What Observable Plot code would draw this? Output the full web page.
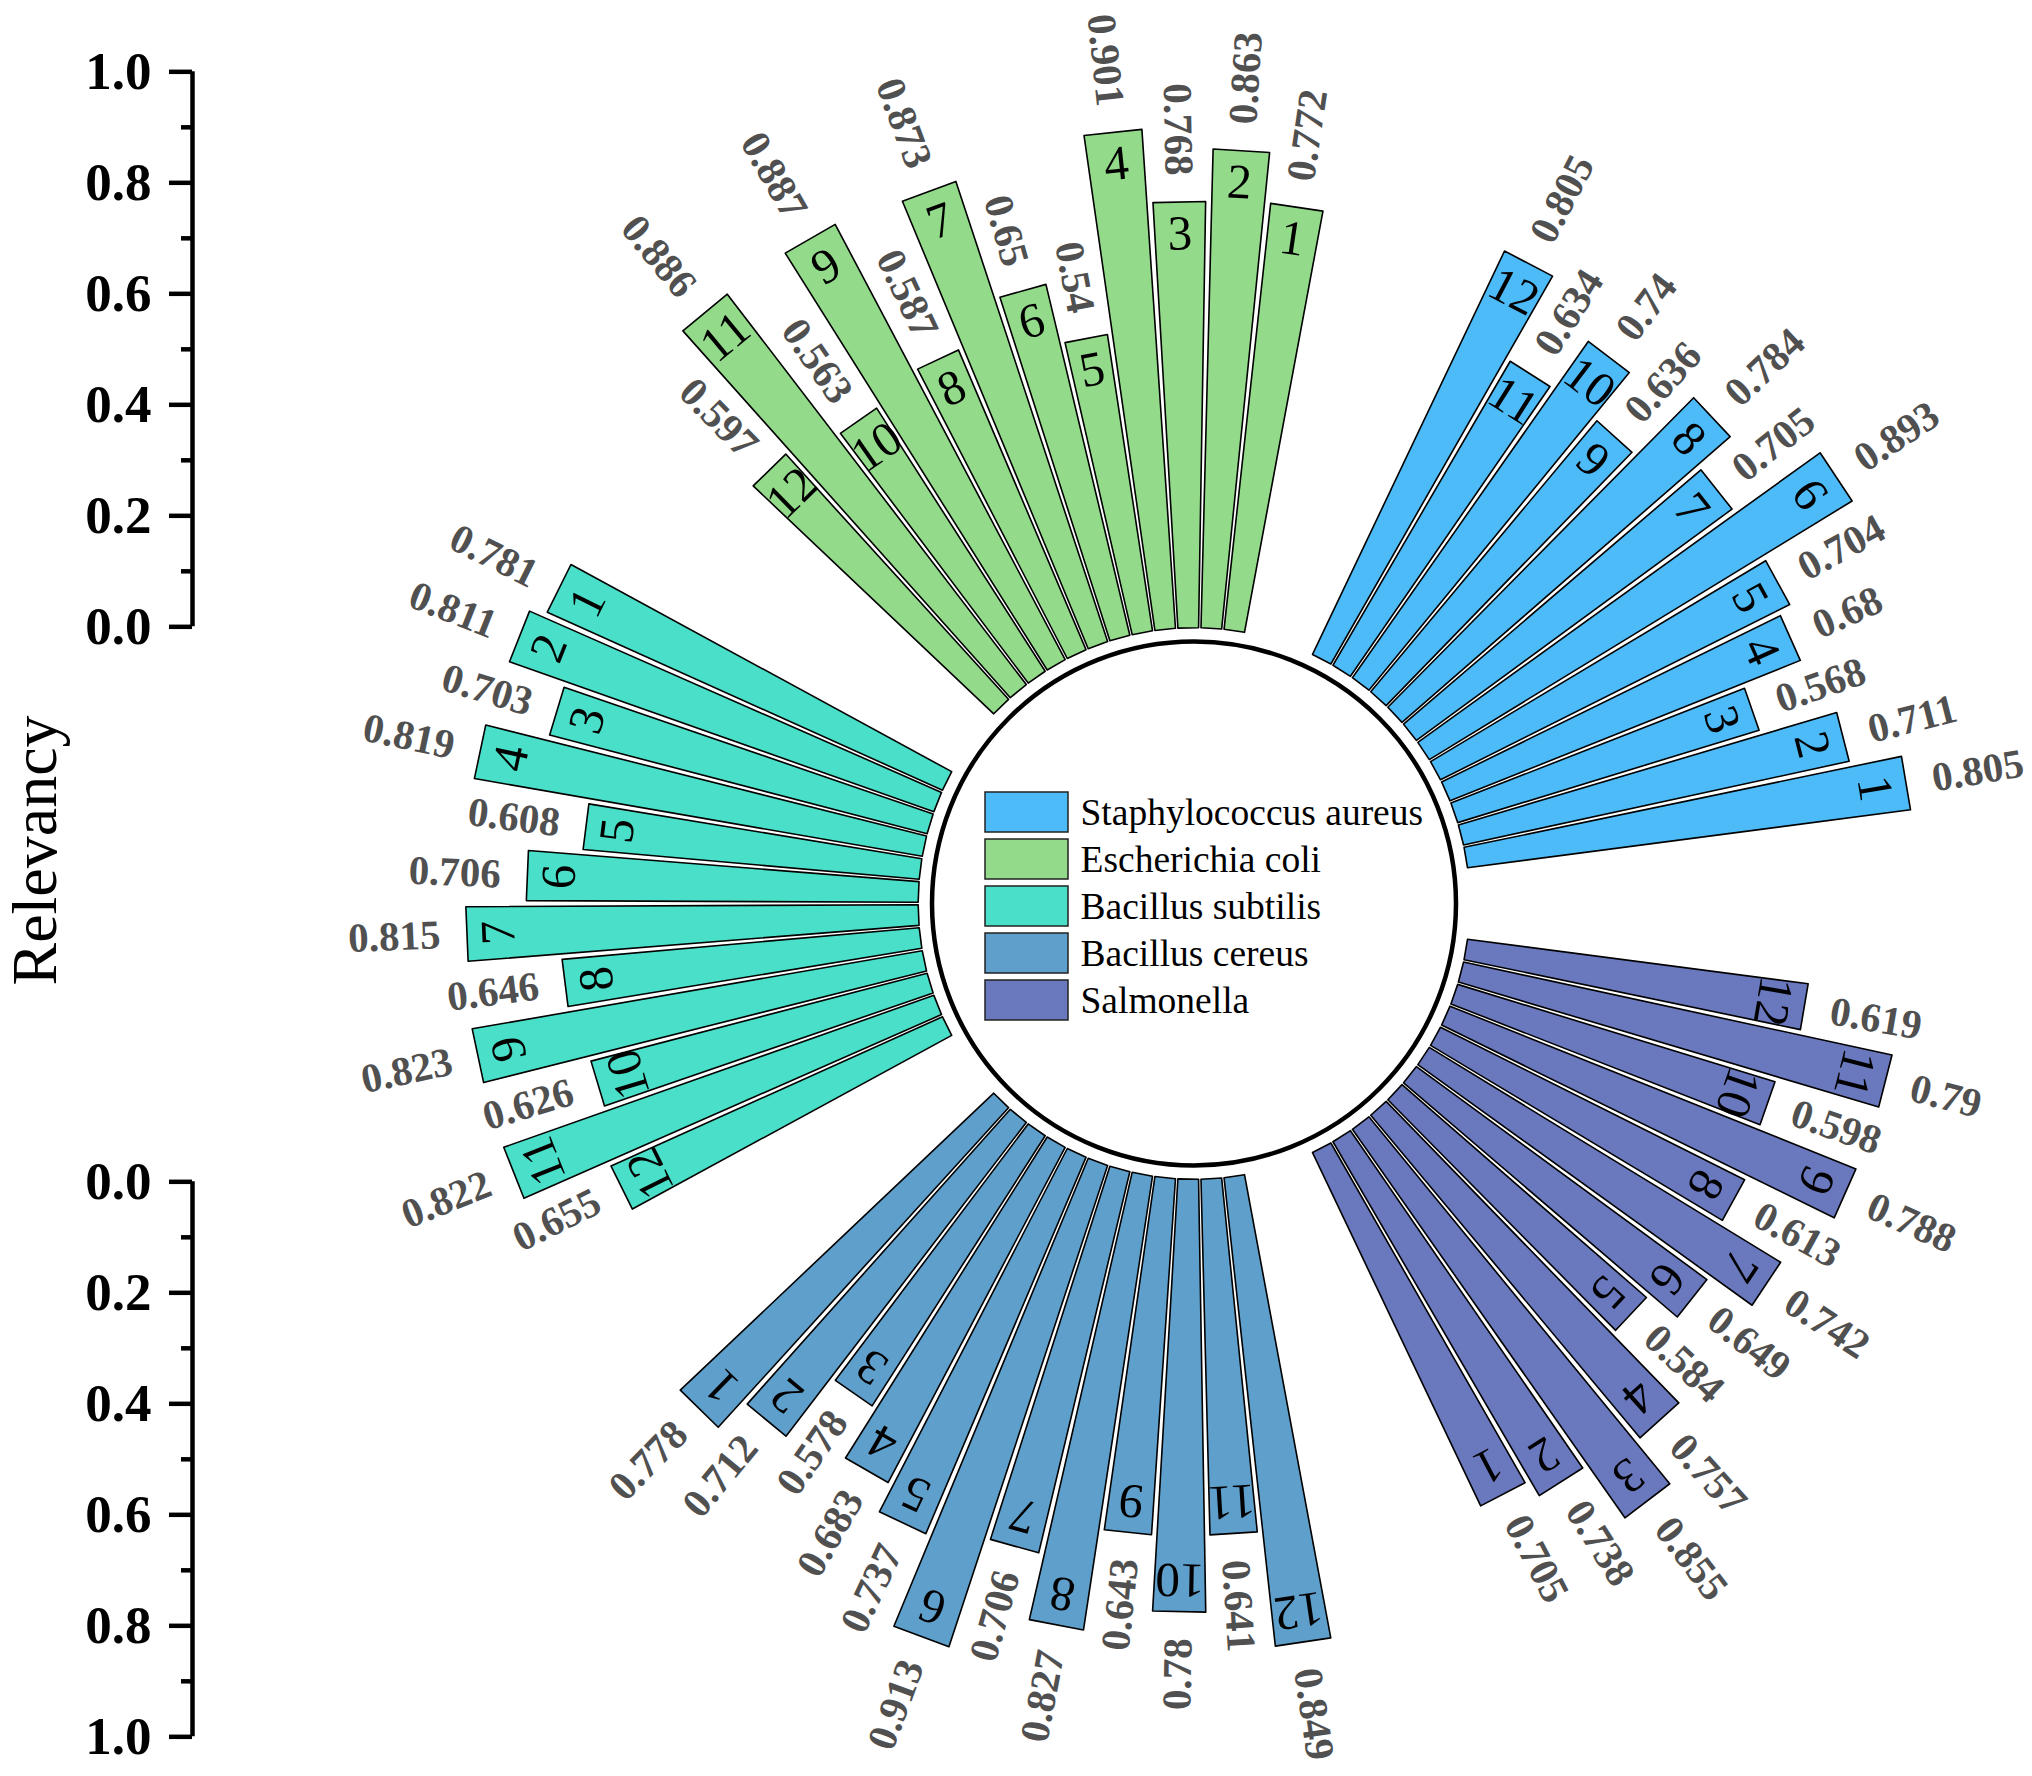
<!DOCTYPE html>
<html><head><meta charset="utf-8">
<script src="https://cdn.jsdelivr.net/npm/d3@7"></script>
<script src="https://cdn.jsdelivr.net/npm/@observablehq/plot@0.6"></script>
<style>body{margin:0;background:#fff}</style>
</head><body><div id="chart"></div>
<script>
// ---------- data ----------
const groups = ["Staphylococcus aureus", "Escherichia coli", "Bacillus subtilis", "Bacillus cereus", "Salmonella"];
const groupColors = ["#4EBBF9", "#93DB8A", "#4ADFC8", "#5F9FCB", "#6A78BE"];
const barNumbers = [1, 2, 3, 4, 5, 6, 7, 8, 9, 10, 11, 12];
const staphylococcusAureus = [0.805, 0.711, 0.568, 0.68, 0.704, 0.893, 0.705, 0.784, 0.636, 0.74, 0.634, 0.805];
const escherichiaColi = [0.772, 0.863, 0.768, 0.901, 0.54, 0.65, 0.873, 0.587, 0.887, 0.563, 0.886, 0.597];
const bacillusSubtilis = [0.781, 0.811, 0.703, 0.819, 0.608, 0.706, 0.815, 0.646, 0.823, 0.626, 0.822, 0.655];
const bacillusCereus = [0.778, 0.712, 0.578, 0.683, 0.737, 0.913, 0.706, 0.827, 0.643, 0.78, 0.641, 0.849];
const salmonella = [0.705, 0.738, 0.855, 0.757, 0.584, 0.649, 0.742, 0.613, 0.788, 0.598, 0.79, 0.619];
const seriesValues = [staphylococcusAureus, escherichiaColi, bacillusSubtilis, bacillusCereus, salmonella];
const axisMajorTicks = [0, 0.2, 0.4, 0.6, 0.8, 1.0];
const axisMinorTicks = [0.1, 0.3, 0.5, 0.7, 0.9];
const axisTitle = "Relevancy";

// ---------- layout ----------
const W = 2032, H = 1776, ML = 192;
const K = 555;               // pixels per relevancy unit
const yTop = 1.1285;         // y value at top edge
const cx = (1193.5 - ML) / K, cy = yTop - 903 / K; // centre of the circle
const circleR = 262;          // px
const r0 = 0.497;            // bar inner radius (units)
const startAngle = 9.6, groupStep = 72, barStep = 4.8, halfWidth = 2.15;
const rad = Math.PI / 180;
const X = px => (px - ML) / K;
const Y = py => yTop - py / K;

// ---------- derived tables ----------
const bars = [];
seriesValues.forEach((vals, g) => {
  vals.forEach((v, i) => {
    const a = startAngle + groupStep * g + barStep * i;
    bars.push({g, i, num: barNumbers[i], v, a, group: groups[g], color: groupColors[g]});
  });
});
const poly = [];
for (const b of bars) {
  const corners = [[r0, b.a - halfWidth], [r0 + b.v, b.a - halfWidth], [r0 + b.v, b.a + halfWidth], [r0, b.a + halfWidth]];
  for (const [r, a] of corners) poly.push({id: b.g * 100 + b.i, g: b.g, x: cx + r * Math.cos(a * rad), y: cy + r * Math.sin(a * rad)});
}
const rightSide = b => Math.cos(b.a * rad) > 0;
const valOff = 0.047, numOff = 0.058;
const legendRows = groups.map((name, k) => ({name, color: groupColors[k], k}));

const marks = [];
// circle
marks.push(Plot.dot([0], {x: () => cx, y: () => cy, r: circleR, fill: "white", stroke: "black", strokeWidth: 4.5}));
// bars
groups.forEach((name, g) => {
  marks.push(Plot.line(poly.filter(p => p.g === g), {x: "x", y: "y", z: "id", curve: "linear-closed", fill: groupColors[g], stroke: "black", strokeWidth: 1.6}));
});
// numbers inside bars
marks.push(Plot.text(bars, {
  x: b => cx + (r0 + b.v - numOff) * Math.cos(b.a * rad),
  y: b => cy + (r0 + b.v - numOff) * Math.sin(b.a * rad),
  text: b => String(b.num), rotate: b => 90 - b.a,
  fontSize: 49, fill: "black", textAnchor: "middle", lineAnchor: "middle"
}));
// value labels
marks.push(Plot.text(bars.filter(rightSide), {
  x: b => cx + (r0 + b.v + valOff) * Math.cos(b.a * rad),
  y: b => cy + (r0 + b.v + valOff) * Math.sin(b.a * rad),
  text: b => String(b.v), rotate: b => -b.a,
  fontSize: 41, fontWeight: "bold", fill: "#505050", textAnchor: "start", lineAnchor: "middle"
}));
marks.push(Plot.text(bars.filter(b => !rightSide(b)), {
  x: b => cx + (r0 + b.v + valOff) * Math.cos(b.a * rad),
  y: b => cy + (r0 + b.v + valOff) * Math.sin(b.a * rad),
  text: b => String(b.v), rotate: b => 180 - b.a,
  fontSize: 41, fontWeight: "bold", fill: "#505050", textAnchor: "end", lineAnchor: "middle"
}));
// legend
marks.push(Plot.rect(legendRows, {
  x1: () => X(985), x2: () => X(1068),
  y1: d => Y(812 + 47 * d.k - 20), y2: d => Y(812 + 47 * d.k + 20),
  fill: d => d.color, stroke: "#222", strokeWidth: 1.5
}));
marks.push(Plot.text(legendRows, {
  x: () => X(1080), y: d => Y(812 + 47 * d.k), text: "name",
  fontSize: 37.5, fill: "black", textAnchor: "start", lineAnchor: "middle"
}));
// axes: upper (0 -> 1 upward) and lower (0 -> 1 downward)
marks.push(Plot.ruleX([0], {y1: 0, y2: 1, stroke: "black", strokeWidth: 4.5}));
marks.push(Plot.ruleX([0], {y1: -1, y2: -2, stroke: "black", strokeWidth: 4.5}));
marks.push(Plot.axisY(axisMajorTicks, {anchor: "left", tickSize: 23, tickPadding: 18, strokeWidth: 4.5,
  fontSize: 53, fontWeight: "bold", fill: "black", tickFormat: d => d.toFixed(1), label: null}));
marks.push(Plot.axisY(axisMinorTicks, {anchor: "left", tickSize: 11, strokeWidth: 4.5, text: null, label: null}));
marks.push(Plot.axisY(axisMajorTicks.map(v => -1 - v), {anchor: "left", tickSize: 23, tickPadding: 18, strokeWidth: 4.5,
  fontSize: 53, fontWeight: "bold", fill: "black", tickFormat: d => Math.abs(-d - 1).toFixed(1), label: null}));
marks.push(Plot.axisY(axisMinorTicks.map(v => -1 - v), {anchor: "left", tickSize: 11, strokeWidth: 4.5, text: null, label: null}));
// axis title
marks.push(Plot.text([axisTitle], {x: () => X(35), y: () => Y(850), text: d => d, rotate: -90,
  fontSize: 64, fill: "black", textAnchor: "middle", lineAnchor: "middle"}));

const chart = Plot.plot({
  width: W, height: H,
  marginLeft: ML, marginRight: 0, marginTop: 0, marginBottom: 0,
  style: {fontFamily: "'Liberation Serif', 'Times New Roman', serif", background: "white", overflow: "visible"},
  x: {domain: [0, (W - ML) / K], axis: null},
  y: {domain: [yTop - H / K, yTop], axis: null},
  marks
});
document.getElementById("chart").appendChild(chart);
</script>
</body></html>
